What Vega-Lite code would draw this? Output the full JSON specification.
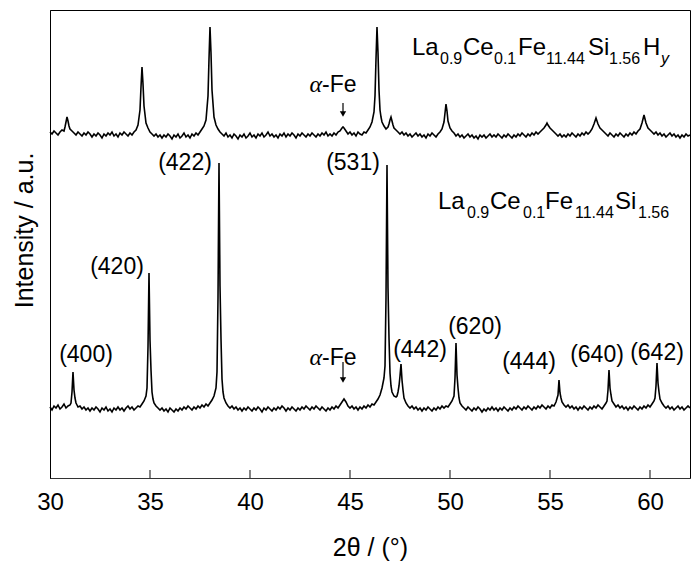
{
"$schema": "https://vega.github.io/schema/vega-lite/v6.json",
"width": 640, "height": 468,
"autosize": {"type": "none"},
"padding": {"left": 50, "top": 10, "right": 10, "bottom": 88},
"config": {"font": "Liberation Sans", "view": {"stroke": "#000", "strokeWidth": 1}},
"datasets": {
"upper": [
{"t":30.0,"v":346},{"t":30.1,"v":344},{"t":30.2,"v":347},{"t":30.3,"v":345},{"t":30.4,"v":343},{"t":30.5,"v":346},{"t":30.6,"v":348},{"t":30.7,"v":347},{"t":30.75,"v":351},{"t":30.8,"v":356},{"t":30.85,"v":361},{"t":30.9,"v":357},{"t":30.95,"v":352},{"t":31.0,"v":349},{"t":31.1,"v":347},{"t":31.2,"v":345},{"t":31.3,"v":343},{"t":31.4,"v":346},{"t":31.5,"v":344},{"t":31.6,"v":342},{"t":31.7,"v":345},{"t":31.8,"v":343},{"t":31.9,"v":346},{"t":32.0,"v":344},{"t":32.1,"v":341},{"t":32.2,"v":344},{"t":32.3,"v":342},{"t":32.4,"v":345},{"t":32.5,"v":343},{"t":32.6,"v":340},{"t":32.7,"v":344},{"t":32.8,"v":342},{"t":32.9,"v":345},{"t":33.0,"v":343},{"t":33.1,"v":346},{"t":33.2,"v":342},{"t":33.3,"v":344},{"t":33.4,"v":341},{"t":33.5,"v":345},{"t":33.6,"v":343},{"t":33.7,"v":346},{"t":33.8,"v":344},{"t":33.9,"v":342},{"t":34.0,"v":345},{"t":34.1,"v":343},{"t":34.2,"v":346},{"t":34.3,"v":348},{"t":34.4,"v":353},{"t":34.5,"v":368},{"t":34.55,"v":391},{"t":34.6,"v":411},{"t":34.65,"v":394},{"t":34.7,"v":372},{"t":34.8,"v":355},{"t":34.9,"v":350},{"t":35.0,"v":346},{"t":35.1,"v":344},{"t":35.2,"v":342},{"t":35.3,"v":344},{"t":35.4,"v":341},{"t":35.5,"v":343},{"t":35.6,"v":340},{"t":35.7,"v":343},{"t":35.8,"v":341},{"t":35.9,"v":344},{"t":36.0,"v":342},{"t":36.1,"v":339},{"t":36.2,"v":343},{"t":36.3,"v":341},{"t":36.4,"v":344},{"t":36.5,"v":340},{"t":36.6,"v":342},{"t":36.7,"v":345},{"t":36.8,"v":341},{"t":36.9,"v":343},{"t":37.0,"v":340},{"t":37.1,"v":344},{"t":37.2,"v":342},{"t":37.3,"v":345},{"t":37.4,"v":343},{"t":37.5,"v":346},{"t":37.6,"v":349},{"t":37.7,"v":352},{"t":37.8,"v":358},{"t":37.9,"v":382},{"t":37.95,"v":419},{"t":38.0,"v":451},{"t":38.05,"v":425},{"t":38.1,"v":388},{"t":38.2,"v":361},{"t":38.3,"v":353},{"t":38.4,"v":349},{"t":38.5,"v":346},{"t":38.6,"v":344},{"t":38.7,"v":342},{"t":38.8,"v":345},{"t":38.9,"v":341},{"t":39.0,"v":343},{"t":39.1,"v":340},{"t":39.2,"v":344},{"t":39.3,"v":342},{"t":39.4,"v":339},{"t":39.5,"v":343},{"t":39.6,"v":341},{"t":39.7,"v":344},{"t":39.8,"v":340},{"t":39.9,"v":342},{"t":40.0,"v":345},{"t":40.1,"v":341},{"t":40.2,"v":343},{"t":40.3,"v":340},{"t":40.4,"v":344},{"t":40.5,"v":342},{"t":40.6,"v":345},{"t":40.7,"v":341},{"t":40.8,"v":343},{"t":40.9,"v":346},{"t":41.0,"v":342},{"t":41.1,"v":344},{"t":41.2,"v":341},{"t":41.3,"v":343},{"t":41.4,"v":340},{"t":41.5,"v":344},{"t":41.6,"v":342},{"t":41.7,"v":345},{"t":41.8,"v":341},{"t":41.9,"v":344},{"t":42.0,"v":342},{"t":42.1,"v":345},{"t":42.2,"v":343},{"t":42.3,"v":340},{"t":42.4,"v":344},{"t":42.5,"v":342},{"t":42.6,"v":345},{"t":42.7,"v":343},{"t":42.8,"v":341},{"t":42.9,"v":344},{"t":43.0,"v":342},{"t":43.1,"v":345},{"t":43.2,"v":343},{"t":43.3,"v":341},{"t":43.4,"v":344},{"t":43.5,"v":342},{"t":43.6,"v":345},{"t":43.7,"v":343},{"t":43.8,"v":346},{"t":43.9,"v":342},{"t":44.0,"v":344},{"t":44.1,"v":342},{"t":44.2,"v":345},{"t":44.3,"v":343},{"t":44.4,"v":346},{"t":44.5,"v":347},{"t":44.6,"v":350},{"t":44.65,"v":351},{"t":44.7,"v":350},{"t":44.8,"v":347},{"t":44.9,"v":344},{"t":45.0,"v":346},{"t":45.1,"v":343},{"t":45.2,"v":345},{"t":45.3,"v":342},{"t":45.4,"v":346},{"t":45.5,"v":344},{"t":45.6,"v":343},{"t":45.7,"v":346},{"t":45.8,"v":345},{"t":45.9,"v":348},{"t":46.0,"v":351},{"t":46.1,"v":356},{"t":46.2,"v":366},{"t":46.25,"v":382},{"t":46.3,"v":419},{"t":46.35,"v":451},{"t":46.4,"v":425},{"t":46.45,"v":388},{"t":46.5,"v":368},{"t":46.55,"v":361},{"t":46.6,"v":356},{"t":46.7,"v":352},{"t":46.8,"v":349},{"t":46.9,"v":351},{"t":46.95,"v":354},{"t":47.0,"v":358},{"t":47.05,"v":361},{"t":47.1,"v":357},{"t":47.15,"v":353},{"t":47.2,"v":350},{"t":47.3,"v":348},{"t":47.4,"v":346},{"t":47.5,"v":344},{"t":47.6,"v":346},{"t":47.7,"v":343},{"t":47.8,"v":345},{"t":47.9,"v":342},{"t":48.0,"v":344},{"t":48.1,"v":341},{"t":48.2,"v":343},{"t":48.3,"v":345},{"t":48.4,"v":342},{"t":48.5,"v":344},{"t":48.6,"v":341},{"t":48.7,"v":343},{"t":48.8,"v":340},{"t":48.9,"v":344},{"t":49.0,"v":342},{"t":49.1,"v":345},{"t":49.2,"v":343},{"t":49.3,"v":341},{"t":49.4,"v":344},{"t":49.5,"v":346},{"t":49.6,"v":349},{"t":49.7,"v":356},{"t":49.75,"v":365},{"t":49.8,"v":374},{"t":49.85,"v":367},{"t":49.9,"v":357},{"t":50.0,"v":350},{"t":50.1,"v":347},{"t":50.2,"v":345},{"t":50.3,"v":342},{"t":50.4,"v":344},{"t":50.5,"v":341},{"t":50.6,"v":343},{"t":50.7,"v":340},{"t":50.8,"v":342},{"t":50.9,"v":344},{"t":51.0,"v":341},{"t":51.1,"v":343},{"t":51.2,"v":340},{"t":51.3,"v":342},{"t":51.4,"v":339},{"t":51.5,"v":343},{"t":51.6,"v":341},{"t":51.7,"v":343},{"t":51.8,"v":340},{"t":51.9,"v":342},{"t":52.0,"v":344},{"t":52.1,"v":341},{"t":52.2,"v":343},{"t":52.3,"v":341},{"t":52.4,"v":344},{"t":52.5,"v":342},{"t":52.6,"v":340},{"t":52.7,"v":343},{"t":52.8,"v":341},{"t":52.9,"v":344},{"t":53.0,"v":342},{"t":53.1,"v":340},{"t":53.2,"v":343},{"t":53.3,"v":341},{"t":53.4,"v":344},{"t":53.5,"v":342},{"t":53.6,"v":345},{"t":53.7,"v":343},{"t":53.8,"v":341},{"t":53.9,"v":344},{"t":54.0,"v":342},{"t":54.1,"v":345},{"t":54.2,"v":343},{"t":54.3,"v":346},{"t":54.4,"v":344},{"t":54.5,"v":346},{"t":54.6,"v":348},{"t":54.7,"v":350},{"t":54.8,"v":353},{"t":54.85,"v":355},{"t":54.9,"v":353},{"t":55.0,"v":350},{"t":55.1,"v":348},{"t":55.2,"v":346},{"t":55.3,"v":344},{"t":55.4,"v":342},{"t":55.5,"v":344},{"t":55.6,"v":341},{"t":55.7,"v":343},{"t":55.8,"v":341},{"t":55.9,"v":344},{"t":56.0,"v":342},{"t":56.1,"v":345},{"t":56.2,"v":343},{"t":56.3,"v":341},{"t":56.4,"v":344},{"t":56.5,"v":342},{"t":56.6,"v":345},{"t":56.7,"v":343},{"t":56.8,"v":346},{"t":56.9,"v":344},{"t":57.0,"v":346},{"t":57.1,"v":349},{"t":57.2,"v":354},{"t":57.25,"v":357},{"t":57.3,"v":360},{"t":57.35,"v":357},{"t":57.4,"v":354},{"t":57.5,"v":350},{"t":57.6,"v":348},{"t":57.7,"v":346},{"t":57.8,"v":344},{"t":57.9,"v":342},{"t":58.0,"v":345},{"t":58.1,"v":343},{"t":58.2,"v":341},{"t":58.3,"v":344},{"t":58.4,"v":342},{"t":58.5,"v":345},{"t":58.6,"v":343},{"t":58.7,"v":341},{"t":58.8,"v":344},{"t":58.9,"v":342},{"t":59.0,"v":345},{"t":59.1,"v":343},{"t":59.2,"v":346},{"t":59.3,"v":344},{"t":59.4,"v":347},{"t":59.5,"v":349},{"t":59.6,"v":355},{"t":59.65,"v":359},{"t":59.7,"v":363},{"t":59.75,"v":359},{"t":59.8,"v":355},{"t":59.9,"v":350},{"t":60.0,"v":348},{"t":60.1,"v":346},{"t":60.2,"v":344},{"t":60.3,"v":346},{"t":60.4,"v":343},{"t":60.5,"v":345},{"t":60.6,"v":342},{"t":60.7,"v":344},{"t":60.8,"v":341},{"t":60.9,"v":343},{"t":61.0,"v":345},{"t":61.1,"v":342},{"t":61.2,"v":344},{"t":61.3,"v":341},{"t":61.4,"v":343},{"t":61.5,"v":340},{"t":61.6,"v":343},{"t":61.7,"v":341},{"t":61.8,"v":344},{"t":61.9,"v":342},{"t":62.0,"v":343}
],
"lower": [
{"t":30.0,"v":71},{"t":30.1,"v":68},{"t":30.2,"v":72},{"t":30.3,"v":70},{"t":30.4,"v":73},{"t":30.5,"v":69},{"t":30.6,"v":71},{"t":30.7,"v":74},{"t":30.8,"v":70},{"t":30.9,"v":72},{"t":31.0,"v":73},{"t":31.05,"v":75},{"t":31.1,"v":86},{"t":31.15,"v":106},{"t":31.2,"v":88},{"t":31.25,"v":80},{"t":31.3,"v":75},{"t":31.35,"v":73},{"t":31.4,"v":71},{"t":31.5,"v":72},{"t":31.6,"v":69},{"t":31.7,"v":71},{"t":31.8,"v":68},{"t":31.9,"v":70},{"t":32.0,"v":67},{"t":32.1,"v":70},{"t":32.2,"v":68},{"t":32.3,"v":71},{"t":32.4,"v":69},{"t":32.5,"v":66},{"t":32.6,"v":70},{"t":32.7,"v":68},{"t":32.8,"v":71},{"t":32.9,"v":67},{"t":33.0,"v":69},{"t":33.1,"v":66},{"t":33.2,"v":70},{"t":33.3,"v":68},{"t":33.4,"v":71},{"t":33.5,"v":68},{"t":33.6,"v":70},{"t":33.7,"v":67},{"t":33.8,"v":70},{"t":33.9,"v":72},{"t":34.0,"v":69},{"t":34.1,"v":71},{"t":34.2,"v":68},{"t":34.3,"v":70},{"t":34.4,"v":72},{"t":34.5,"v":71},{"t":34.6,"v":74},{"t":34.7,"v":77},{"t":34.8,"v":82},{"t":34.85,"v":90},{"t":34.9,"v":131},{"t":34.95,"v":205},{"t":35.0,"v":138},{"t":35.05,"v":108},{"t":35.1,"v":86},{"t":35.15,"v":79},{"t":35.2,"v":75},{"t":35.3,"v":72},{"t":35.4,"v":70},{"t":35.5,"v":68},{"t":35.6,"v":70},{"t":35.7,"v":67},{"t":35.8,"v":69},{"t":35.9,"v":66},{"t":36.0,"v":70},{"t":36.1,"v":68},{"t":36.2,"v":66},{"t":36.3,"v":69},{"t":36.4,"v":67},{"t":36.5,"v":70},{"t":36.6,"v":68},{"t":36.7,"v":71},{"t":36.8,"v":69},{"t":36.9,"v":72},{"t":37.0,"v":70},{"t":37.1,"v":68},{"t":37.2,"v":71},{"t":37.3,"v":69},{"t":37.4,"v":72},{"t":37.5,"v":70},{"t":37.6,"v":73},{"t":37.7,"v":71},{"t":37.8,"v":74},{"t":37.9,"v":72},{"t":38.0,"v":75},{"t":38.1,"v":78},{"t":38.2,"v":82},{"t":38.3,"v":90},{"t":38.35,"v":106},{"t":38.4,"v":180},{"t":38.45,"v":315},{"t":38.5,"v":192},{"t":38.55,"v":139},{"t":38.6,"v":99},{"t":38.65,"v":86},{"t":38.7,"v":80},{"t":38.8,"v":75},{"t":38.9,"v":72},{"t":39.0,"v":70},{"t":39.1,"v":72},{"t":39.2,"v":69},{"t":39.3,"v":71},{"t":39.4,"v":68},{"t":39.5,"v":70},{"t":39.6,"v":67},{"t":39.7,"v":70},{"t":39.8,"v":68},{"t":39.9,"v":71},{"t":40.0,"v":69},{"t":40.1,"v":67},{"t":40.2,"v":70},{"t":40.3,"v":68},{"t":40.4,"v":71},{"t":40.5,"v":69},{"t":40.6,"v":66},{"t":40.7,"v":70},{"t":40.8,"v":68},{"t":40.9,"v":71},{"t":41.0,"v":69},{"t":41.1,"v":67},{"t":41.2,"v":70},{"t":41.3,"v":68},{"t":41.4,"v":71},{"t":41.5,"v":69},{"t":41.6,"v":72},{"t":41.7,"v":70},{"t":41.8,"v":67},{"t":41.9,"v":70},{"t":42.0,"v":68},{"t":42.1,"v":71},{"t":42.2,"v":69},{"t":42.3,"v":67},{"t":42.4,"v":70},{"t":42.5,"v":68},{"t":42.6,"v":71},{"t":42.7,"v":69},{"t":42.8,"v":72},{"t":42.9,"v":70},{"t":43.0,"v":68},{"t":43.1,"v":71},{"t":43.2,"v":69},{"t":43.3,"v":72},{"t":43.4,"v":70},{"t":43.5,"v":68},{"t":43.6,"v":71},{"t":43.7,"v":69},{"t":43.8,"v":67},{"t":43.9,"v":70},{"t":44.0,"v":68},{"t":44.1,"v":71},{"t":44.2,"v":69},{"t":44.3,"v":72},{"t":44.4,"v":70},{"t":44.5,"v":73},{"t":44.6,"v":76},{"t":44.7,"v":79},{"t":44.8,"v":76},{"t":44.9,"v":72},{"t":45.0,"v":70},{"t":45.1,"v":72},{"t":45.2,"v":69},{"t":45.3,"v":71},{"t":45.4,"v":68},{"t":45.5,"v":71},{"t":45.6,"v":69},{"t":45.7,"v":72},{"t":45.8,"v":70},{"t":45.9,"v":73},{"t":46.0,"v":71},{"t":46.1,"v":74},{"t":46.2,"v":73},{"t":46.3,"v":76},{"t":46.4,"v":79},{"t":46.5,"v":83},{"t":46.6,"v":90},{"t":46.7,"v":100},{"t":46.75,"v":112},{"t":46.8,"v":180},{"t":46.85,"v":313},{"t":46.9,"v":190},{"t":46.95,"v":140},{"t":47.0,"v":105},{"t":47.05,"v":92},{"t":47.1,"v":86},{"t":47.2,"v":82},{"t":47.3,"v":81},{"t":47.35,"v":82},{"t":47.4,"v":86},{"t":47.45,"v":92},{"t":47.5,"v":102},{"t":47.55,"v":114},{"t":47.6,"v":98},{"t":47.65,"v":88},{"t":47.7,"v":80},{"t":47.8,"v":75},{"t":47.9,"v":72},{"t":48.0,"v":70},{"t":48.1,"v":72},{"t":48.2,"v":69},{"t":48.3,"v":71},{"t":48.4,"v":68},{"t":48.5,"v":70},{"t":48.6,"v":67},{"t":48.7,"v":70},{"t":48.8,"v":68},{"t":48.9,"v":71},{"t":49.0,"v":69},{"t":49.1,"v":67},{"t":49.2,"v":70},{"t":49.3,"v":68},{"t":49.4,"v":71},{"t":49.5,"v":69},{"t":49.6,"v":72},{"t":49.7,"v":70},{"t":49.8,"v":72},{"t":49.9,"v":71},{"t":50.0,"v":74},{"t":50.1,"v":77},{"t":50.2,"v":82},{"t":50.25,"v":100},{"t":50.3,"v":135},{"t":50.35,"v":103},{"t":50.4,"v":90},{"t":50.45,"v":80},{"t":50.5,"v":75},{"t":50.6,"v":72},{"t":50.7,"v":70},{"t":50.8,"v":68},{"t":50.9,"v":71},{"t":51.0,"v":69},{"t":51.1,"v":67},{"t":51.2,"v":70},{"t":51.3,"v":68},{"t":51.4,"v":71},{"t":51.5,"v":69},{"t":51.6,"v":66},{"t":51.7,"v":69},{"t":51.8,"v":67},{"t":51.9,"v":70},{"t":52.0,"v":68},{"t":52.1,"v":71},{"t":52.2,"v":68},{"t":52.3,"v":70},{"t":52.4,"v":67},{"t":52.5,"v":70},{"t":52.6,"v":68},{"t":52.7,"v":71},{"t":52.8,"v":69},{"t":52.9,"v":67},{"t":53.0,"v":70},{"t":53.1,"v":68},{"t":53.2,"v":71},{"t":53.3,"v":69},{"t":53.4,"v":72},{"t":53.5,"v":70},{"t":53.6,"v":68},{"t":53.7,"v":71},{"t":53.8,"v":69},{"t":53.9,"v":72},{"t":54.0,"v":70},{"t":54.1,"v":68},{"t":54.2,"v":71},{"t":54.3,"v":69},{"t":54.4,"v":72},{"t":54.5,"v":70},{"t":54.6,"v":73},{"t":54.7,"v":71},{"t":54.8,"v":69},{"t":54.9,"v":72},{"t":55.0,"v":70},{"t":55.1,"v":73},{"t":55.2,"v":72},{"t":55.3,"v":76},{"t":55.4,"v":83},{"t":55.45,"v":98},{"t":55.5,"v":85},{"t":55.55,"v":80},{"t":55.6,"v":76},{"t":55.7,"v":73},{"t":55.8,"v":71},{"t":55.9,"v":73},{"t":56.0,"v":70},{"t":56.1,"v":72},{"t":56.2,"v":69},{"t":56.3,"v":71},{"t":56.4,"v":68},{"t":56.5,"v":71},{"t":56.6,"v":69},{"t":56.7,"v":72},{"t":56.8,"v":70},{"t":56.9,"v":68},{"t":57.0,"v":71},{"t":57.1,"v":69},{"t":57.2,"v":72},{"t":57.3,"v":70},{"t":57.4,"v":73},{"t":57.5,"v":71},{"t":57.6,"v":69},{"t":57.7,"v":72},{"t":57.8,"v":75},{"t":57.85,"v":77},{"t":57.9,"v":88},{"t":57.95,"v":108},{"t":58.0,"v":90},{"t":58.05,"v":83},{"t":58.1,"v":77},{"t":58.2,"v":74},{"t":58.3,"v":71},{"t":58.4,"v":73},{"t":58.5,"v":70},{"t":58.6,"v":72},{"t":58.7,"v":69},{"t":58.8,"v":71},{"t":58.9,"v":68},{"t":59.0,"v":71},{"t":59.1,"v":69},{"t":59.2,"v":72},{"t":59.3,"v":70},{"t":59.4,"v":68},{"t":59.5,"v":71},{"t":59.6,"v":69},{"t":59.7,"v":72},{"t":59.8,"v":70},{"t":59.9,"v":73},{"t":60.0,"v":71},{"t":60.1,"v":74},{"t":60.2,"v":77},{"t":60.25,"v":80},{"t":60.3,"v":92},{"t":60.35,"v":115},{"t":60.4,"v":95},{"t":60.45,"v":86},{"t":60.5,"v":79},{"t":60.6,"v":75},{"t":60.7,"v":72},{"t":60.8,"v":70},{"t":60.9,"v":72},{"t":61.0,"v":69},{"t":61.1,"v":71},{"t":61.2,"v":68},{"t":61.3,"v":70},{"t":61.4,"v":72},{"t":61.5,"v":69},{"t":61.6,"v":71},{"t":61.7,"v":68},{"t":61.8,"v":70},{"t":61.9,"v":72},{"t":62.0,"v":70}
],
"hkl": [
{"t":31.8,"v":123,"s":"(400)"},{"t":33.35,"v":211,"s":"(420)"},{"t":36.75,"v":315,"s":"(422)"},{"t":45.15,"v":315,"s":"(531)"},{"t":48.5,"v":128,"s":"(442)"},{"t":51.25,"v":151,"s":"(620)"},{"t":53.95,"v":116,"s":"(444)"},{"t":57.35,"v":123,"s":"(640)"},{"t":60.35,"v":125,"s":"(642)"}
],
"alpha": [{"t":43.6,"v":386,"s":"α"},{"t":43.6,"v":113,"s":"α"}],
"fe": [{"t":43.6,"v":386,"s":"-Fe"},{"t":43.6,"v":113,"s":"-Fe"}],
"fmain": [
{"t":48.1,"v":423,"s":"La"},{"t":50.65,"v":423,"s":"Ce"},{"t":53.4,"v":423,"s":"Fe"},{"t":56.9,"v":423,"s":"Si"},{"t":59.65,"v":423,"s":"H"},
{"t":49.4,"v":269,"s":"La"},{"t":52.0,"v":269,"s":"Ce"},{"t":54.75,"v":269,"s":"Fe"},{"t":58.25,"v":269,"s":"Si"}
],
"fsub": [
{"t":49.5,"v":414,"s":"0.9"},{"t":52.2,"v":414,"s":"0.1"},{"t":54.8,"v":414,"s":"11.44"},{"t":57.95,"v":414,"s":"1.56"},
{"t":50.85,"v":260,"s":"0.9"},{"t":53.65,"v":260,"s":"0.1"},{"t":56.25,"v":260,"s":"11.44"},{"t":59.4,"v":260,"s":"1.56"}
],
"fy": [{"t":60.55,"v":414,"s":"y"}],
"arrows": [{"t":44.65,"v":375,"v2":364},{"t":44.65,"v":116,"v2":98}],
"heads": [{"t":44.65,"v":364},{"t":44.65,"v":98}],
"xticks": [{"t":35,"v":0,"v2":8},{"t":40,"v":0,"v2":8},{"t":45,"v":0,"v2":8},{"t":50,"v":0,"v2":8},{"t":55,"v":0,"v2":8},{"t":60,"v":0,"v2":8}]
},
"encoding": {
"x": {"field": "t", "type": "quantitative", "scale": {"domain": [30, 62], "nice": false, "zero": false},
 "axis": {"values": [30, 35, 40, 45, 50, 55, 60], "title": "2θ / (°)", "grid": false, "ticks": false, "domainColor": "#333", "labelFontSize": 24, "labelColor": "#000", "labelPadding": 12, "labelFlush": false, "titleFontSize": 25, "titleFontWeight": "normal", "titleColor": "#000", "titleX": 320, "titleY": 77, "titleBaseline": "alphabetic"}},
"y": {"field": "v", "type": "quantitative", "scale": {"domain": [0, 468], "nice": false, "zero": false},
 "axis": {"title": "Intensity / a.u.", "labels": false, "ticks": false, "grid": false, "domainColor": "#000", "titleFontSize": 25, "titleFontWeight": "normal", "titleColor": "#000", "titleX": -18, "titleY": 220, "titleAngle": 270, "titleBaseline": "alphabetic", "titleAlign": "center"}}
},
"layer": [
{"data": {"name": "xticks"}, "mark": {"type": "rule", "color": "#333", "strokeWidth": 1.2}, "encoding": {"y2": {"field": "v2"}}},
{"data": {"name": "upper"}, "mark": {"type": "line", "color": "#000", "strokeWidth": 1.6}},
{"data": {"name": "lower"}, "mark": {"type": "line", "color": "#000", "strokeWidth": 1.6}},
{"data": {"name": "hkl"}, "mark": {"type": "text", "fontSize": 23, "align": "center", "baseline": "middle", "color": "#000"}, "encoding": {"text": {"field": "s"}}},
{"data": {"name": "alpha"}, "mark": {"type": "text", "fontSize": 24, "font": "Liberation Serif", "fontStyle": "italic", "align": "right", "baseline": "alphabetic", "color": "#000"}, "encoding": {"text": {"field": "s"}}},
{"data": {"name": "fe"}, "mark": {"type": "text", "fontSize": 23, "align": "left", "baseline": "alphabetic", "color": "#000"}, "encoding": {"text": {"field": "s"}}},
{"data": {"name": "fmain"}, "mark": {"type": "text", "fontSize": 24, "align": "left", "baseline": "alphabetic", "color": "#000"}, "encoding": {"text": {"field": "s"}}},
{"data": {"name": "fsub"}, "mark": {"type": "text", "fontSize": 16, "align": "left", "baseline": "alphabetic", "color": "#000"}, "encoding": {"text": {"field": "s"}}},
{"data": {"name": "fy"}, "mark": {"type": "text", "fontSize": 16, "fontStyle": "italic", "align": "left", "baseline": "alphabetic", "color": "#000"}, "encoding": {"text": {"field": "s"}}},
{"data": {"name": "arrows"}, "mark": {"type": "rule", "color": "#000", "strokeWidth": 1.2}, "encoding": {"y2": {"field": "v2"}}},
{"data": {"name": "heads"}, "mark": {"type": "point", "shape": "triangle-down", "filled": true, "color": "#000", "size": 40, "opacity": 1}}
]
}
